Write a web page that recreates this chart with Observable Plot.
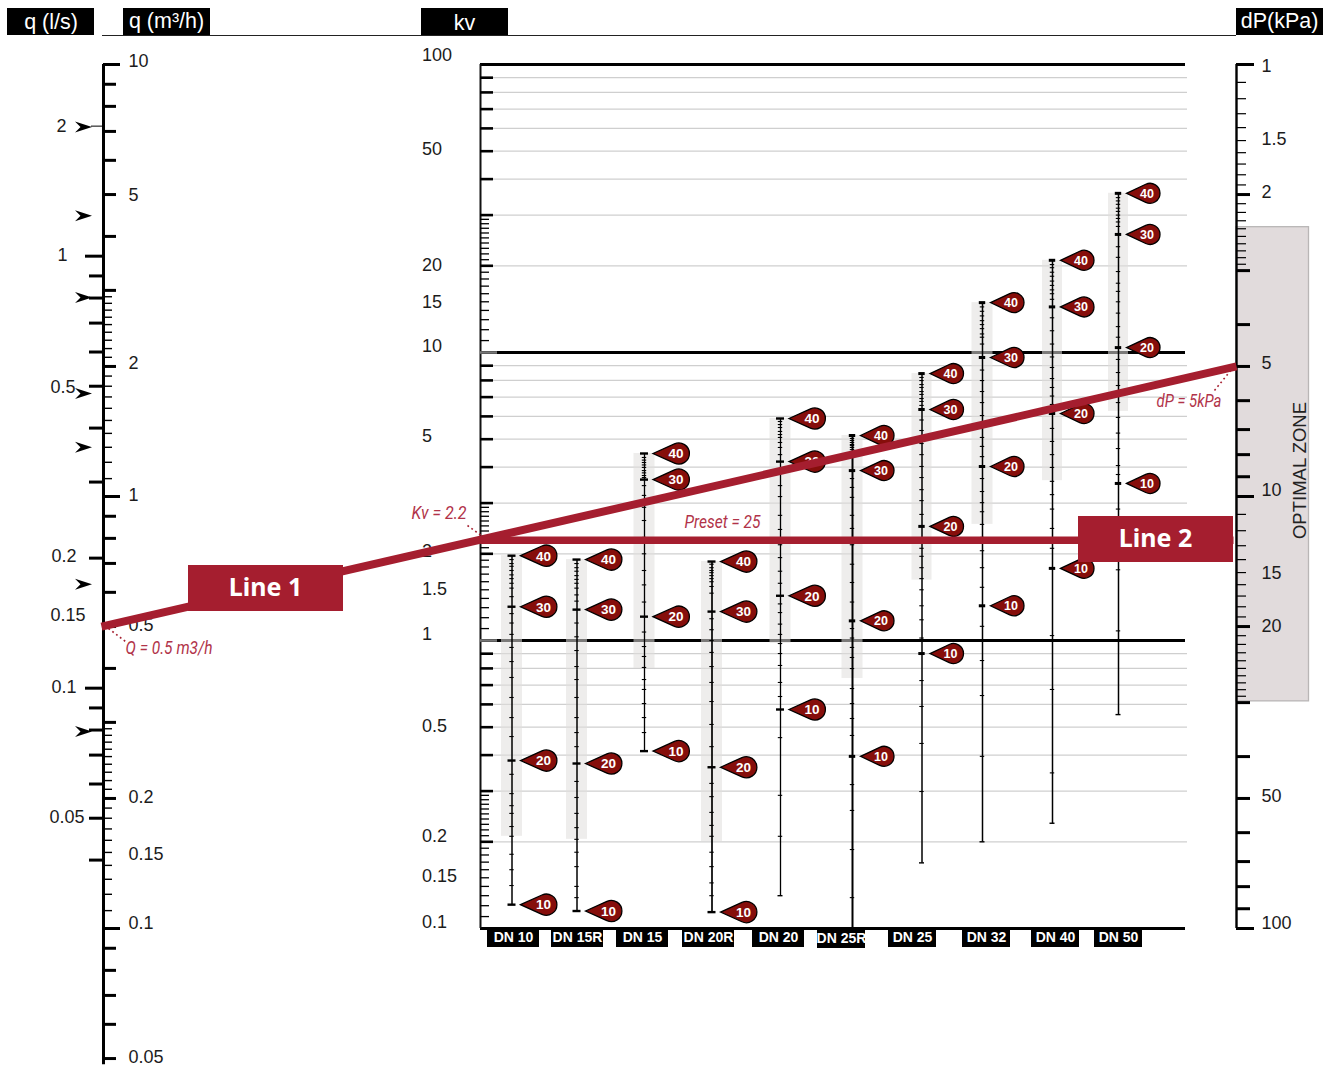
<!doctype html>
<html><head><meta charset="utf-8">
<style>html,body{margin:0;padding:0;background:#fff;overflow:hidden}svg{display:block}</style>
<script src="https://cdn.jsdelivr.net/npm/d3@7"></script>
<script src="https://cdn.jsdelivr.net/npm/@observablehq/plot@0.6"></script>
</head><body><div id="chart"></div>
<script>
// ---------- values ----------
const dnNames = ["DN 10","DN 15R","DN 15","DN 20R","DN 20","DN 25R","DN 25","DN 32","DN 40","DN 50"];
const presets = [40,30,20,10];
const kv40 = [1.97,1.91,4.46,1.88,5.9,5.15,8.45,14.9,20.9,35.7];
const kv30 = [1.31,1.28,3.62,1.26,4.18,3.89,6.34,9.61,14.4,25.7];
const kv20 = [0.383,0.374,1.21,0.363,1.43,1.17,2.49,4.02,6.14,10.4];
const kv10 = [0.121,0.115,0.413,0.114,0.576,0.396,0.901,1.32,1.78,3.51];
const kvBandLow = [0.209,0.204,0.799,0.2,0.976,0.738,1.62,2.53,3.59,6.24];
const kvLineEnd = [0.121,0.115,0.413,0.114,0.13,0.1,0.169,0.2,0.232,0.553];
const presetTicks = [
 [1.91,1.85,1.81,1.75,1.69,1.64,1.58,1.52,1.42,1.24,1.15,1.05,0.946,0.845,0.744,0.634,0.54,0.464,0.343,0.294,0.267,0.251,0.226,0.209,0.181,0.16,0.141],
 [1.85,1.79,1.74,1.68,1.63,1.58,1.52,1.44,1.37,1.15,1.03,0.923,0.812,0.732,0.634,0.54,0.479,0.428,0.324,0.285,0.251,0.224,0.204,0.184,0.164,0.14,0.128],
 [4.32,4.23,4.15,4.07,3.99,3.89,3.82,3.74,3.68,3.45,3.19,2.9,2.61,2.28,2,1.75,1.56,1.36,1.07,0.953,0.88,0.806,0.732,0.676,0.604,0.54,0.479],
 [1.84,1.79,1.75,1.72,1.68,1.64,1.6,1.54,1.46,1.19,1.09,1,0.909,0.812,0.715,0.614,0.511,0.428,0.319,0.287,0.253,0.228,0.209,0.184,0.164,0.144,0.13],
 [5.76,5.62,5.49,5.32,5.19,5.07,4.87,4.68,4.42,3.86,3.45,3.16,2.72,2.43,2.15,1.94,1.74,1.58,1.34,1.25,1.14,1.05,0.976,0.901,0.819,0.715,0.639,0.46,0.29,0.209],
 [5.03,4.95,4.87,4.79,4.75,4.68,4.6,4.5,4.35,3.65,3.4,3.14,2.72,2.45,2.15,1.84,1.59,1.36,1.1,1.02,0.946,0.873,0.799,0.681,0.604,0.536,0.468,0.316,0.257,0.188,0.128],
 [8.19,7.99,7.74,7.56,7.32,7.15,6.92,6.76,6.55,5.83,5.36,4.83,4.42,4.02,3.68,3.34,3.06,2.74,2.24,2.09,1.96,1.79,1.64,1.5,1.32,1.18,1.02,0.726,0.59,0.439,0.299],
 [14.4,13.9,13.4,12.9,12.5,12.1,11.6,11.3,10.7,8.69,7.99,7.32,6.7,6.04,5.53,5.07,4.72,4.35,3.65,3.29,3.01,2.8,2.53,2.28,2.05,1.79,1.53,1.12,0.852,0.644,0.396],
 [20.2,19.7,19,18.4,17.7,17.1,16.5,16,15.3,13.2,11.9,10.7,9.65,8.87,8.12,7.56,7.06,6.6,5.45,4.91,4.42,3.99,3.57,3.21,2.86,2.45,2.09,1.04,0.676,0.347],
 [34.5,33.6,32.7,31.7,30.9,30,29.2,28.4,27.4,23.3,21.4,19.1,17.4,16.3,15,13.7,12.3,11.3,9.46,8.52,7.68,6.7,5.95,5.25,4.64,4.05,3.77,2.86,1.76,1.08]
];
const kvHeavy = [100,10,1,0.1];
const kvMajor = [90,80,70,60,50,40,30,20,9,8,7,6,5,4,3,2,0.9,0.8,0.7,0.6,0.5,0.4,0.3,0.2];
const kvMinor = [29,28,27,26,25,24,23,22,21,19,18,17,16,15,14,13,12,11,2.9,2.8,2.7,2.6,2.5,2.4,2.3,2.2,2.1,1.9,1.8,1.7,1.6,1.5,1.4,1.3,1.2,1.1,0.29,0.28,0.27,0.26,0.25,0.24,0.23,0.22,0.21,0.19,0.18,0.17,0.16,0.15,0.14,0.13,0.12,0.11];
const kvLabels = [100,50,20,15,10,5,2,1.5,1,0.5,0.2,0.15,0.1];
const qLong = [10,1,0.1];
const qMajor = [9,8,7,6,5,4,3,2,0.9,0.8,0.7,0.6,0.5,0.4,0.3,0.2,0.09,0.08,0.07,0.06,0.05];
const qMinor = [2.9,2.8,2.7,2.6,2.5,2.4,2.3,2.2,2.1,1.9,1.8,1.7,1.6,1.5,1.4,1.3,1.2,1.1,0.29,0.28,0.27,0.26,0.25,0.24,0.23,0.22,0.21,0.19,0.18,0.17,0.16,0.15,0.14,0.13,0.12,0.11];
const qLabels = [10,5,2,1,0.5,0.2,0.15,0.1,0.05];
const lsLong = [1,0.1];
const lsMajor = [0.9,0.8,0.7,0.6,0.5,0.4,0.3,0.2,0.09,0.08,0.07,0.06,0.05,0.04];
const lsThin = [2];
const lsLabels = [2,1,0.5,0.2,0.15,0.1,0.05];
const lsArrows = [1.99,1.24,0.802,0.481,0.361,0.174,0.0794];
const dpLong = [1,10,100];
const dpMajor = [2,3,4,5,6,7,8,9,20,30,40,50,60,70,80,90];
const dpMinor = [1.1,1.2,1.3,1.4,1.5,1.6,1.7,1.8,1.9,2.1,2.2,2.3,2.4,2.5,2.6,2.7,2.8,2.9,11,12,13,14,15,16,17,18,19,21,22,23,24,25,26,27,28,29];
const dpLabels = [1,1.5,2,5,10,15,20,50,100];
const dpZone = [2.38,29.8];
const exampleQ = 0.5, exampleDp = 5, exampleKv = 2.23;
const headerNames = ["q (l/s)","q (m³/h)","kv","dP(kPa)"];

// ---------- layout and style (pixel positions, not data) ----------
const W = 1332, H = 1068;
const dnX = [511.5,576.5,644,711.5,780,852,921.5,982,1052,1118];
const dnLabelX = [513,577,642,708,778,841,912,986,1055,1118];
const dnBoxHalf = [26,26,26,26,26,24,24,24,24,24];
const dnBoxTop = [928,928,928,928,928,929,928,928,928,928];
const bandHalf = [10.5,10.5,10.5,10.5,10.5,10.5,10,10.5,10,10];
const lineW = [1.5,1.5,1.3,1.7,1.3,2,1.5,1.5,1.5,1.5];
const axQ = 103, axKv = 480, axDp = 1236, gridEnd = 1187, heavyEnd = 1185;
const RED = "#a51e2f", NOTE = "#b13349", PIN = "#860e0b";
const SANS = "'Liberation Sans',Arial,sans-serif";
const NARROW = "Roboto,'Liberation Sans',sans-serif";

const kvLabelDy = [-9,-2,-1,0,-6,-3,-3,-1,-6,-1,-6,-2,-6];
const qLabelDy = [-3,1,-3,-1,-1,-1,2,-5,-1];
const lsLabelDy = [0,-1,1,-2,3,-1,-1];
const lsLabelX = [56,57,50,51,50,51,49];
const dpLabelDy = [2,-1,-2,-3,-6,1,0,-2,-5];

// ---------- converting every axis to the shared position scale ----------
const fromQ = q => 10 ** (2 - (1 - Math.log10(q)) * 1.5);
const fromLs = l => fromQ(l * 3.6);
const fromDp = d => 10 ** (2 - Math.log10(d) * 1.5);
const nudge = (v, dy) => v * 10 ** (-dy / 288);
const atPx = y => 10 ** (2 - (y - 64) / 288);

const dn = dnNames.map((name, i) => ({name, i, x: dnX[i]}));
const pins = dn.flatMap(d => presets.map((p, k) => ({...d, preset: p, kv: [kv40, kv30, kv20, kv10][k][d.i]})));
const minors = dn.flatMap(d => presetTicks[d.i].map(kv => ({...d, kv})));

function pinSymbol(tip, cx, r) {
  return {draw(c) {
    const a = Math.PI - Math.acos(r / (cx - tip));
    c.moveTo(tip, 0);
    c.lineTo(cx + r * Math.cos(a), -r * Math.sin(a));
    c.arc(cx, 0, r, -a, a);
    c.closePath();
  }};
}
const arrowSymbol = {draw(c) {
  c.moveTo(0, -5.5); c.lineTo(17, 0); c.lineTo(0, 5.5); c.lineTo(5.5, 0); c.closePath();
}};

const tickRule = (vals, conv, x1, x2, sw, extra = {}) =>
  Plot.ruleY(vals, {y: conv, x1, x2, stroke: "#000", strokeWidth: sw, ...extra});

const axisText = (vals, conv, dys, x) => Plot.text(vals, {
  x: typeof x === "number" ? x : (d, i) => x[i],
  y: (d, i) => nudge(conv(d), dys[i]), text: d => String(d),
  textAnchor: "start", fontSize: 18, fontFamily: SANS, fill: "#1c1c1c"
});

const box = (x1, x2, y1, y2) => ({x1, x2, y1: atPx(y1), y2: atPx(y2)});
const id = d => d;

const headerBoxes = [box(7,94,8,35), box(123,210,8,35), box(421,508,8,35), box(1236,1323,8,35)];
const headerText = [[50.5,21.5],[166,21],[464,23],[1279,20.5]];
const lineBoxes = [{...box(188,343,565,611), t:"Line 1", cx:265, cy:587}, {...box(1078,1233,516,562), t:"Line 2", cx:1155, cy:538}];
const notes = [
  {t:"Q = 0.5 m3/h", x:125, y:648, len:87},
  {t:"Kv = 2.2", x:411, y:513, len:55},
  {t:"Preset = 25", x:684, y:522, len:76},
  {t:"dP = 5kPa", x:1156, y:401, len:65}
];
const leaders = [[108,628,125,641],[467,525,482,536],[1214,390,1231,369]];

const chart = Plot.plot({
  width: W, height: H, margin: 0,
  style: {background: "#fff", fontFamily: SANS},
  x: {type: "linear", domain: [0, W], range: [0, W], axis: null},
  y: {type: "log", domain: [atPx(H), atPx(0)], range: [H, 0], axis: null},
  marks: [
    // optimal zone on the dP axis
    Plot.rect([{}], {x1: axDp, x2: 1308.5, y1: () => fromDp(dpZone[0]), y2: () => fromDp(dpZone[1]), fill: "#e1dbdc", stroke: "#b9b6b6", strokeWidth: 1.3}),
    Plot.text(["OPTIMAL ZONE"], {x: 1300, y: () => atPx(470), text: id, rotate: -90, fontSize: 18.5, fontFamily: SANS, fill: "#222"}),
    // kv grid
    Plot.ruleY(kvMajor, {y: id, x1: axKv, x2: gridEnd, stroke: "#cfcfcf", strokeWidth: 1.2}),
    Plot.ruleY(kvHeavy, {y: id, x1: axKv, x2: heavyEnd, stroke: "#000", strokeWidth: 2.8}),
    // low-band shading per valve
    Plot.rect(dn, {x1: d => d.x - bandHalf[d.i], x2: d => d.x + bandHalf[d.i], y1: d => kvBandLow[d.i], y2: d => kv40[d.i], fill: "#e0dfdd", fillOpacity: 0.55}),
    // axes
    Plot.ruleX([axQ], {x: id, y1: () => fromQ(10), y2: () => fromQ(0.0484), stroke: "#000", strokeWidth: 3}),
    Plot.ruleX([axKv], {x: id, y1: 100, y2: 0.1, stroke: "#111", strokeWidth: 2}),
    Plot.ruleX([axDp], {x: id, y1: () => fromDp(1), y2: () => fromDp(100), stroke: "#000", strokeWidth: 2.4}),
    Plot.ruleY([10, 1], {y: id, x1: axKv, x2: 497, stroke: "#777", strokeWidth: 2.6}),
    // ticks q (m3/h)
    tickRule(qLong, fromQ, axQ, 120, 3),
    tickRule(qMajor, fromQ, axQ, 116, 3),
    tickRule(qMinor, fromQ, axQ, 112, 1.4),
    // ticks q (l/s)
    tickRule(lsLong, fromLs, 85, axQ, 3),
    tickRule(lsMajor, fromLs, 89, axQ, 3),
    tickRule(lsThin, fromLs, 91, axQ, 1),
    // ticks kv
    tickRule(kvMajor, id, axKv, 493, 2.6),
    tickRule(kvMinor, id, axKv, 489, 1.3),
    // ticks dP
    tickRule(dpLong, fromDp, axDp, 1254, 3),
    tickRule(dpMajor, fromDp, axDp, 1250, 3),
    tickRule(dpMinor, fromDp, axDp, 1246, 1.2),
    // flow arrows
    Plot.dot(lsArrows, {x: 74.5, y: fromLs, symbol: arrowSymbol, fill: "#000", stroke: "none"}),
    // valve lines and preset ticks
    Plot.link(dn, {x1: "x", x2: "x", y1: d => kv40[d.i], y2: d => kvLineEnd[d.i], stroke: "#000", strokeWidth: d => lineW[d.i]}),
    Plot.ruleY(minors, {y: "kv", x1: d => d.x - 2.2, x2: d => d.x + 2.2, stroke: "#000", strokeWidth: 1.1}),
    Plot.ruleY(dn.filter(d => d.i >= 4), {y: d => kvLineEnd[d.i], x1: d => d.x - 2.5, x2: d => d.x + 2.5, stroke: "#000", strokeWidth: 1.4}),
    Plot.ruleY(pins.filter(d => d.i < 5), {y: "kv", x1: d => d.x - 4, x2: d => d.x + 4, stroke: "#000", strokeWidth: 2.4}),
    Plot.ruleY(pins.filter(d => d.i >= 5), {y: "kv", x1: d => d.x - 3.2, x2: d => d.x + 3.2, stroke: "#000", strokeWidth: 3}),
    // preset pins
    Plot.dot(pins.filter(d => d.i < 5), {x: "x", y: "kv", symbol: pinSymbol(8.5, 34.3, 10.6), fill: PIN, stroke: "#000", strokeWidth: 1.3}),
    Plot.dot(pins.filter(d => d.i >= 5), {x: "x", y: "kv", symbol: pinSymbol(8, 31.5, 10), fill: PIN, stroke: "#000", strokeWidth: 1.3}),
    Plot.text(pins.filter(d => d.i < 5), {x: "x", y: "kv", text: d => String(d.preset), dx: 31.5, dy: 0.5, fill: "#fff", fontWeight: "bold", fontSize: 13.5, fontFamily: SANS}),
    Plot.text(pins.filter(d => d.i >= 5), {x: "x", y: "kv", text: d => String(d.preset), dx: 28.5, dy: 0.5, fill: "#fff", fontWeight: "bold", fontSize: 12.5, fontFamily: SANS}),
    // axis labels
    axisText(qLabels, fromQ, qLabelDy, 128),
    axisText(lsLabels, fromLs, lsLabelDy, lsLabelX),
    axisText(kvLabels, id, kvLabelDy, 421.5),
    axisText(dpLabels, fromDp, dpLabelDy, 1261),
    // DN labels
    Plot.rect(dn, {x1: d => dnLabelX[d.i] - dnBoxHalf[d.i], x2: d => dnLabelX[d.i] + dnBoxHalf[d.i], y1: d => atPx(dnBoxTop[d.i]), y2: d => atPx(dnBoxTop[d.i] + 19), fill: "#000"}),
    Plot.text(dn, {x: d => dnLabelX[d.i], y: d => atPx(dnBoxTop[d.i] + 9.5), text: "name", fill: "#fff", fontWeight: "bold", fontSize: 14, fontFamily: SANS}),
    // worked example lines
    Plot.link([{}], {x1: 101, x2: axDp, y1: () => fromQ(exampleQ), y2: () => fromDp(exampleDp), stroke: RED, strokeWidth: 8}),
    Plot.link([{}], {x1: axKv, x2: 1233, y1: () => exampleKv, y2: () => exampleKv, stroke: RED, strokeWidth: 7.5}),
    Plot.link(leaders, {x1: d => d[0], x2: d => d[2], y1: d => atPx(d[1]), y2: d => atPx(d[3]), stroke: RED, strokeWidth: 1.6, strokeDasharray: "1.8 3"}),
    Plot.rect(lineBoxes, {x1: "x1", x2: "x2", y1: "y1", y2: "y2", fill: RED}),
    Plot.text(lineBoxes, {x: "cx", y: d => atPx(d.cy), text: "t", fill: "#fff", fontWeight: "bold", fontSize: 25, fontFamily: "'Noto Sans',sans-serif"}),
    Plot.text(notes, {x: "x", y: d => atPx(d.y), text: "t", textAnchor: "start", fill: NOTE, fontStyle: "italic", fontSize: 18, fontFamily: NARROW, className: "note"}),
    // header
    Plot.ruleY([atPx(35)], {y: id, x1: axQ - 1, x2: axDp, stroke: "#222", strokeWidth: 1}),
    Plot.rect(headerBoxes, {x1: "x1", x2: "x2", y1: "y1", y2: "y2", fill: "#000"}),
    Plot.text(headerNames, {x: (d, i) => headerText[i][0], y: (d, i) => atPx(headerText[i][1]), text: id, fill: "#fff", fontSize: 21.5, fontFamily: SANS})
  ]
});
document.getElementById("chart").append(chart);
// The annotations use a condensed italic in the reference: narrow the installed face to the same run length.
chart.querySelectorAll(".note text").forEach((t, i) => {
  t.setAttribute("textLength", notes[i].len);
  t.setAttribute("lengthAdjust", "spacingAndGlyphs");
});
</script></body></html>
